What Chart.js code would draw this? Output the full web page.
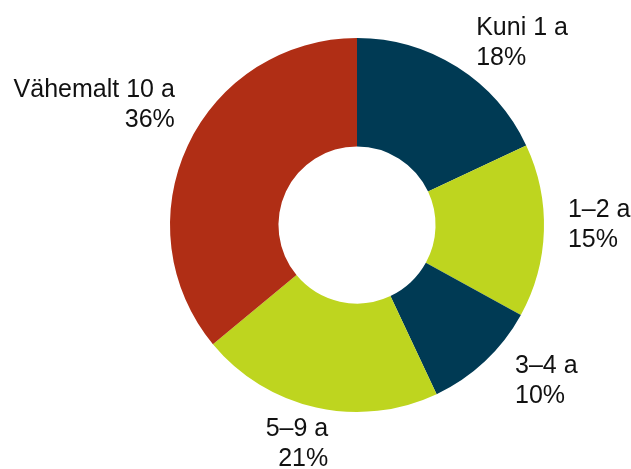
<!DOCTYPE html>
<html>
<head>
<meta charset="utf-8">
<script src="https://cdn.jsdelivr.net/npm/chart.js@4/dist/chart.umd.min.js"></script>
<style>
html,body{margin:0;padding:0;background:#fff;}
#wrap{width:631px;height:469px;position:relative;}
</style>
</head>
<body>
<div id="wrap"><canvas id="c" width="631" height="469"></canvas></div>
<script>
// Data
const categories = ["Kuni 1 a", "1–2 a", "3–4 a", "5–9 a", "Vähemalt 10 a"];
const shares = [18, 15, 10, 21, 36];
const valueLabels = ["18%", "15%", "10%", "21%", "36%"];

// Style
const sliceColors = ["#003a54", "#bed51f", "#003a54", "#bed51f", "#b02e15"];
const labelAlign = ["left", "left", "left", "right", "right"];
const labelDx = [19, 24, 30, 12, -13];
const labelDy = [-32, -14, 12, 29, -48];

const outsideLabels = {
  id: "outsideLabels",
  afterDatasetsDraw(chart) {
    const ctx = chart.ctx;
    const meta = chart.getDatasetMeta(0);
    ctx.save();
    ctx.fillStyle = "#111111";
    ctx.font = "25px 'Liberation Sans', Arial, sans-serif";
    ctx.textBaseline = "alphabetic";
    meta.data.forEach((arc, i) => {
      const p = arc.getProps(["x", "y", "startAngle", "endAngle", "outerRadius"], true);
      const mid = (p.startAngle + p.endAngle) / 2;
      const ox = p.x + Math.cos(mid) * p.outerRadius;
      const oy = p.y + Math.sin(mid) * p.outerRadius;
      const x = ox + labelDx[i];
      const y = oy + labelDy[i];
      ctx.textAlign = labelAlign[i];
      ctx.fillText(categories[i], x, y);
      ctx.fillText(valueLabels[i], x, y + 30);
    });
    ctx.restore();
  }
};

new Chart(document.getElementById("c"), {
  type: "doughnut",
  data: {
    labels: categories,
    datasets: [{
      data: shares,
      backgroundColor: sliceColors,
      borderWidth: 0,
      hoverOffset: 0
    }]
  },
  options: {
    responsive: false,
    animation: false,
    cutout: "42%",
    layout: { padding: { top: 38, bottom: 57, left: 170, right: 87 } },
    plugins: {
      legend: { display: false },
      tooltip: { enabled: false }
    }
  },
  plugins: [outsideLabels]
});
</script>
</body>
</html>
